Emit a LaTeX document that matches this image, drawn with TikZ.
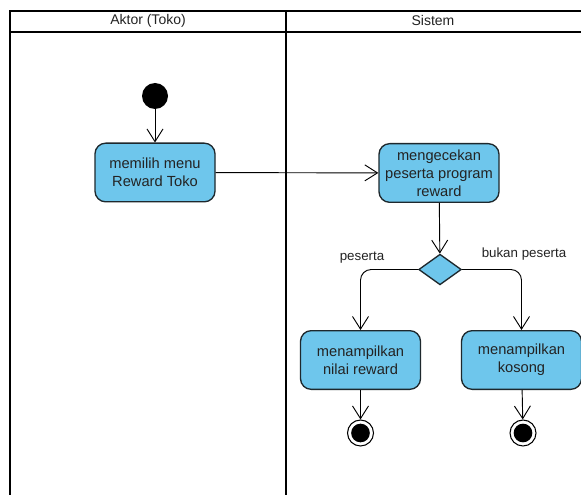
\documentclass[tikz,border=0pt]{standalone}
\usepackage{fontspec}
\setmainfont{Liberation Sans}
\usetikzlibrary{arrows.meta,shapes.geometric}
\definecolor{actfill}{RGB}{110,198,236}
\definecolor{actline}{RGB}{30,40,45}
\definecolor{txt}{RGB}{35,35,35}
\tikzset{
  lane/.style={line width=1.6pt,draw=black},
  action/.style={draw=actline,line width=1pt,fill=actfill,rounded corners=8pt,
    minimum width=90pt,minimum height=44pt,align=center,text=txt,inner sep=1pt,
    font=\fontsize{11}{13.5}\selectfont},
  startnode/.style={circle,fill=black,minimum size=19.5pt,inner sep=0pt},
  endnode/.style={circle,draw=black,line width=0.8pt,fill=white,minimum size=19.5pt,inner sep=0pt,
    path picture={\fill[black] (path picture bounding box.center) circle (7pt);}},
  decision/.style={diamond,draw=actline,line width=1pt,fill=actfill,minimum width=32pt,
    minimum height=23pt,inner sep=0pt,aspect=1.4},
  flow/.style={draw=black,line width=0.7pt,-{Straight Barb[length=9.5pt,width=12pt,line width=0.7pt]}},
  guard/.style={font=\fontsize{10}{12}\selectfont,text=txt},
  lanetitle/.style={font=\fontsize{10.5}{12}\selectfont,text=txt}
}
\begin{document}
\begin{tikzpicture}[x=0.75pt,y=-0.75pt]
\useasboundingbox (0,0) rectangle (581,495);
\fill[white] (0,0) rectangle (581,495);
% swimlane frame
\begin{scope}
\clip (0,0) rectangle (581,495);
\draw[lane] (10,500) -- (10,11) -- (590,11);
\draw[lane] (10,32) -- (590,32);
\draw[lane] (286,11) -- (286,500);
\end{scope}
\node[lanetitle] (laneA) at (148,21) {Aktor (Toko)};
\node[lanetitle] (laneB) at (433,21) {Sistem};
% activity nodes
\node[startnode] (start) at (155,96) {};
\node[action] (pilih) at (155,172.5) {memilih menu\\Reward Toko};
\node[action] (cek) at (439,173) {mengecekan\\peserta program\\reward};
\node[decision] (dec) at (440,269.5) {};
\node[action] (nilai) at (360.5,360) {menampilkan\\nilai reward};
\node[action] (kosong) at (521.5,360) {menampilkan\\kosong};
\node[endnode] (end1) at (360.5,433) {};
\node[endnode] (end2) at (523,433) {};
% flows
\draw[flow] (start) -- (pilih);
\draw[flow] (pilih) -- (cek);
\draw[flow] (cek) -- (dec);
\draw[flow,rounded corners=8pt] (dec.west) -| (nilai.north);
\draw[flow,rounded corners=8pt] (dec.east) -| (kosong.north);
\draw[flow] (nilai) -- (end1);
\draw[flow] (kosong) -- (end2);
% guards
\node[guard] (g1) at (362,258) {peserta};
\node[guard] (g2) at (524,254) {bukan peserta};
\end{tikzpicture}
\end{document}
